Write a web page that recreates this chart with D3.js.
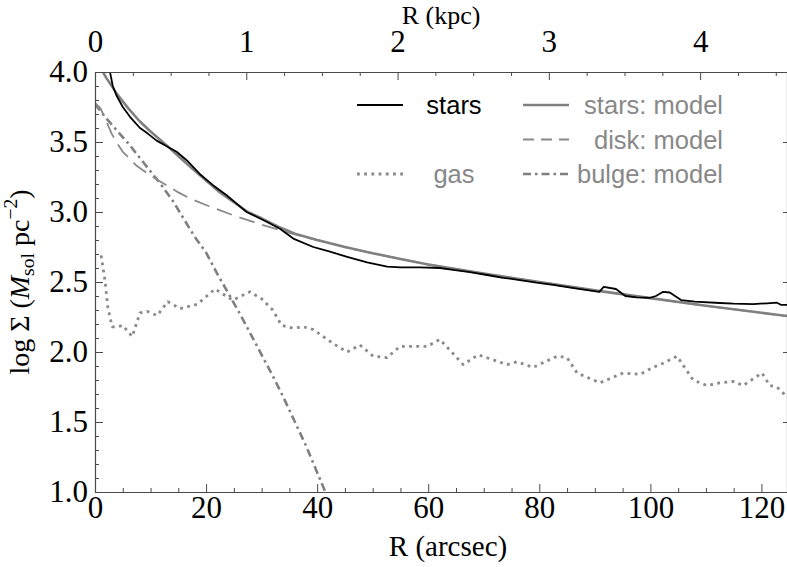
<!DOCTYPE html>
<html>
<head>
<meta charset="utf-8">
<script src="https://cdn.jsdelivr.net/npm/d3@7"></script>
<style>
  html, body { margin: 0; padding: 0; background: #fff; }
  svg { display: block; }
</style>
</head>
<body>
<svg id="chart" width="787" height="567"></svg>
<script>
// ---- Data (R in arcsec, value = log Sigma) ----
const starsR = [2.0,2.7,3.2,3.9,5,6.3,8.1,9.5,11.1,12.9,14.7,16.5,18.9,21.3,23.7,25.5,27.3,30.9,33.3,35.7,39.3,42,45.4,49,52.6,55,58.5,62.1,64.5,67.5,70.6,73.5,76.5,79.5,82.5,86.5,90.8,91.6,93.8,95.5,97.5,99.9,101,102.3,103.5,105.6,108,112.5,115,118.5,121,122.8,123.5,124.6];
const starsV = [4.12,4.0,3.90,3.83,3.75,3.68,3.60,3.56,3.51,3.47,3.43,3.37,3.27,3.19,3.12,3.06,3.0,2.93,2.88,2.81,2.75,2.72,2.68,2.64,2.61,2.605,2.605,2.60,2.586,2.57,2.55,2.53,2.514,2.495,2.48,2.455,2.43,2.465,2.45,2.40,2.39,2.386,2.40,2.43,2.425,2.37,2.36,2.35,2.345,2.342,2.348,2.352,2.337,2.336];

const gasR = [1.1,1.8,2.3,3.1,4.0,5.0,6.7,8.1,9.4,11.2,13.1,15.3,18.4,21.6,24.8,27.9,30.0,32.0,33.6,35.7,37.5,39.3,42.9,45.4,47.7,50.1,52.6,54.9,57.3,59.8,62.1,66.3,69.0,74.2,76.0,78.9,83.2,85.0,86.8,90.9,95.1,98.1,100.5,102.3,104.8,107.7,110.2,112.5,114.9,116.7,120.1,121.5,122.8,124.6];
const gasV = [2.69,2.51,2.32,2.18,2.18,2.19,2.11,2.28,2.29,2.26,2.36,2.31,2.34,2.45,2.37,2.43,2.38,2.30,2.19,2.17,2.18,2.16,2.06,2.0,2.05,1.97,1.96,2.04,2.04,2.04,2.09,1.91,1.98,1.91,1.93,1.89,1.97,1.96,1.85,1.78,1.85,1.84,1.89,1.92,1.97,1.80,1.76,1.78,1.79,1.76,1.85,1.76,1.75,1.68];

const modelR = [0,1,2,4,6,8,10,12.5,15,17.5,20,22.5,25,27.5,30,33,36,40,45,50,55,60,70,80,90,100,110,120,124.6];
const modelV = [4.075,4.03,3.96,3.84,3.74,3.65,3.575,3.49,3.40,3.31,3.225,3.14,3.07,3.00,2.955,2.895,2.845,2.80,2.75,2.705,2.665,2.625,2.56,2.50,2.44,2.385,2.33,2.28,2.257];

const diskR = [0,1,2,3,4,5,7.5,10,12.5,15,17.5,20,25,30,35,40,45,50,55,60,70,80,90,100,110,120,124.6];
const diskV = [3.78,3.74,3.65,3.56,3.49,3.43,3.33,3.26,3.20,3.14,3.09,3.05,2.975,2.91,2.85,2.80,2.75,2.705,2.665,2.625,2.56,2.50,2.44,2.385,2.33,2.28,2.257];

const bulgeR = [0,2,4,6,8,10,12,14,16,18,20,22,24,26,28,30,32,34,36,38,40,42];
const bulgeV = [3.77,3.67,3.58,3.49,3.39,3.29,3.19,3.08,2.95,2.82,2.71,2.56,2.42,2.28,2.13,1.98,1.83,1.67,1.50,1.33,1.14,0.95];

const xTicks = [0,20,40,60,80,100,120];
const yTicks = [1.0,1.5,2.0,2.5,3.0,3.5,4.0];
const kpcTicks = [0,1,2,3,4];
const arcsecPerKpc = 27.24;

const legendItems = [
  {label:"stars", col:0, row:0, style:"stars"},
  {label:"gas", col:0, row:2, style:"gas"},
  {label:"stars: model", col:1, row:0, style:"model"},
  {label:"disk: model", col:1, row:1, style:"disk"},
  {label:"bulge: model", col:1, row:2, style:"bulge"}
];

// ---- Layout ----
const svg = d3.select("#chart");
const L = 95, R = 787, T = 72, B = 492;
const xMax = 124.6;
const x = d3.scaleLinear().domain([0, xMax]).range([L, R]);
const y = d3.scaleLinear().domain([1, 4]).range([B, T]);
const xk = d3.scaleLinear().domain([0, xMax / arcsecPerKpc]).range([L, R]);

const styles = {
  stars: {stroke:"#000", width:1.8, dash:null},
  model: {stroke:"#808080", width:2.6, dash:null},
  disk:  {stroke:"#8a8a8a", width:1.8, dash:"16,8"},
  bulge: {stroke:"#808080", width:2.6, dash:"8,4,2.5,4"},
  gas:   {stroke:"#8a8a8a", width:2.8, dash:"2.8,4.4"}
};

svg.append("defs").append("clipPath").attr("id","clip")
  .append("rect").attr("x",L).attr("y",T).attr("width",R-L).attr("height",B-T);

const line = d3.line().x(d => x(d[0])).y(d => y(d[1]));
const plotG = svg.append("g").attr("clip-path","url(#clip)");

function drawSeries(rs, vs, st) {
  const s = styles[st];
  plotG.append("path")
    .datum(d3.zip(rs, vs))
    .attr("d", line)
    .attr("fill","none")
    .attr("stroke", s.stroke)
    .attr("stroke-width", s.width)
    .attr("stroke-dasharray", s.dash)
    .attr("stroke-linejoin","round");
}
drawSeries(gasR, gasV, "gas");
drawSeries(bulgeR, bulgeV, "bulge");
drawSeries(diskR, diskV, "disk");
drawSeries(modelR, modelV, "model");
drawSeries(starsR, starsV, "stars");

// ---- Axes ----
const axisColor = "#4a4a4a";
const tickFont = "Liberation Serif, 'Times New Roman', serif";
const tickFS = 31;
const titleFS = 29;

function styleAxis(g) {
  g.select(".domain").attr("stroke", axisColor).attr("stroke-width", 1.2);
  g.selectAll(".tick line").attr("stroke", axisColor).attr("stroke-width", 1);
  g.selectAll("text").attr("font-family", tickFont).attr("font-size", tickFS).attr("fill","#000");
}

// bottom
const gB = svg.append("g").attr("transform", `translate(0,${B})`)
  .call(d3.axisBottom(x).tickValues(xTicks).tickFormat(d3.format("d")).tickSizeInner(-8).tickSizeOuter(0).tickPadding(4));
styleAxis(gB);
const gBm = svg.append("g").attr("transform", `translate(0,${B})`)
  .call(d3.axisBottom(x).tickValues(d3.range(5, xMax, 5).filter(v => v % 20 !== 0)).tickFormat("").tickSizeInner(-4).tickSizeOuter(0));
styleAxis(gBm); gBm.select(".domain").remove();

// left
const gL = svg.append("g").attr("transform", `translate(${L},0)`)
  .call(d3.axisLeft(y).tickValues(yTicks).tickFormat(d3.format(".1f")).tickSizeInner(-8).tickSizeOuter(0).tickPadding(7));
styleAxis(gL);
const gLm = svg.append("g").attr("transform", `translate(${L},0)`)
  .call(d3.axisLeft(y).tickValues(d3.range(1.1, 4.0, 0.1).filter(v => Math.abs(v*2 - Math.round(v*2)) > 1e-6)).tickFormat("").tickSizeInner(-4).tickSizeOuter(0));
styleAxis(gLm); gLm.select(".domain").remove();

// top (kpc)
const gT = svg.append("g").attr("transform", `translate(0,${T})`)
  .call(d3.axisTop(xk).tickValues(kpcTicks).tickFormat(d3.format("d")).tickSizeInner(-8).tickSizeOuter(0).tickPadding(20));
styleAxis(gT);
const gTm = svg.append("g").attr("transform", `translate(0,${T})`)
  .call(d3.axisTop(xk).tickValues(d3.range(0.25, xMax/arcsecPerKpc, 0.25).filter(v => Math.abs(v - Math.round(v)) > 1e-6)).tickFormat("").tickSizeInner(-4).tickSizeOuter(0));
styleAxis(gTm); gTm.select(".domain").remove();

// right
const gR = svg.append("g").attr("transform", `translate(${R},0)`)
  .call(d3.axisRight(y).tickValues(yTicks).tickFormat("").tickSizeInner(-4).tickSizeOuter(0));
styleAxis(gR);

// ---- Axis titles ----
svg.append("text").attr("x", 448).attr("y", 556).attr("text-anchor","middle")
  .attr("font-family", tickFont).attr("font-size", titleFS).text("R (arcsec)");
svg.append("text").attr("x", 441).attr("y", 24).attr("text-anchor","middle")
  .attr("font-family", tickFont).attr("font-size", 26).text("R (kpc)");

const ylFS = 28;
const yl = svg.append("text")
  .attr("transform", "translate(29,282) rotate(-90)")
  .attr("text-anchor","middle")
  .attr("font-family", tickFont).attr("font-size", ylFS);
yl.append("tspan").text("log Σ (");
yl.append("tspan").attr("font-style","italic").text("M");
yl.append("tspan").attr("font-size", ylFS*0.7).attr("dy", 5).text("sol");
yl.append("tspan").attr("dy", -5).text(" pc");
yl.append("tspan").attr("font-size", ylFS*0.7).attr("dy", -12).text("−2");
yl.append("tspan").attr("dy", 12).text(")");

// ---- Legend ----
const legFont = "Liberation Sans, Arial, Helvetica, sans-serif";
const rowY = [105, 139.5, 174];
const colLine = [[357, 403], [523, 569]];
const leg = svg.append("g");
legendItems.forEach(it => {
  const s = styles[it.style];
  const [x1, x2] = colLine[it.col];
  const yy = rowY[it.row];
  leg.append("line").attr("x1", x1).attr("x2", x2).attr("y1", yy).attr("y2", yy)
    .attr("stroke", s.stroke).attr("stroke-width", s.width)
    .attr("stroke-dasharray", it.style === "disk" ? "11,7" : s.dash);
  const t = leg.append("text").attr("y", yy + 9).attr("font-family", legFont).attr("font-size", 25.5)
    .attr("fill", it.style === "stars" ? "#000" : "#888");
  if (it.col === 0) t.attr("x", 454).attr("text-anchor","middle");
  else t.attr("x", 723).attr("text-anchor","end");
  t.text(it.label);
});
</script>
</body>
</html>
